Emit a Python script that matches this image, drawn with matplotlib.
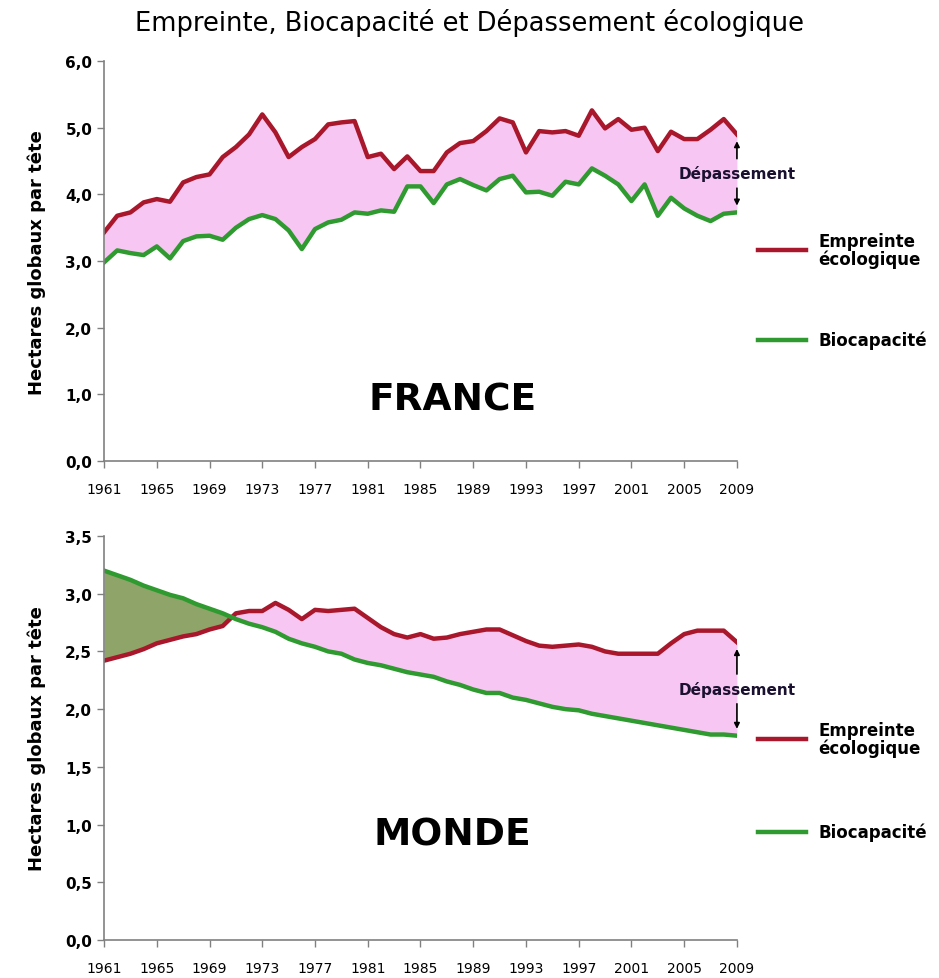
import numpy as np
import matplotlib
matplotlib.use("Agg")
import matplotlib.pyplot as plt

years = list(range(1961, 2010))

# France - hectares globaux par tete
france_empreinte = [3.43, 3.68, 3.73, 3.88, 3.93, 3.89, 4.18, 4.26, 4.30, 4.56,
                    4.71, 4.90, 5.20, 4.93, 4.56, 4.71, 4.83, 5.05, 5.08, 5.10,
                    4.56, 4.61, 4.38, 4.57, 4.35, 4.35, 4.63, 4.77, 4.80, 4.95,
                    5.14, 5.08, 4.63, 4.95, 4.93, 4.95, 4.88, 5.26, 4.99, 5.13,
                    4.97, 5.00, 4.65, 4.94, 4.83, 4.83, 4.97, 5.13, 4.90]
france_biocap = [2.98, 3.16, 3.12, 3.09, 3.22, 3.04, 3.30, 3.37, 3.38, 3.32,
                 3.50, 3.63, 3.69, 3.63, 3.46, 3.18, 3.48, 3.58, 3.62, 3.73,
                 3.71, 3.76, 3.74, 4.12, 4.12, 3.87, 4.15, 4.23, 4.14, 4.06,
                 4.23, 4.28, 4.03, 4.04, 3.98, 4.19, 4.15, 4.39, 4.28, 4.15,
                 3.90, 4.15, 3.68, 3.95, 3.79, 3.68, 3.60, 3.71, 3.73]

# Monde
monde_empreinte = [2.42, 2.45, 2.48, 2.52, 2.57, 2.60, 2.63, 2.65, 2.69, 2.72,
                   2.83, 2.85, 2.85, 2.92, 2.86, 2.78, 2.86, 2.85, 2.86, 2.87,
                   2.79, 2.71, 2.65, 2.62, 2.65, 2.61, 2.62, 2.65, 2.67, 2.69,
                   2.69, 2.64, 2.59, 2.55, 2.54, 2.55, 2.56, 2.54, 2.50, 2.48,
                   2.48, 2.48, 2.48, 2.57, 2.65, 2.68, 2.68, 2.68, 2.58]
monde_biocap = [3.20, 3.16, 3.12, 3.07, 3.03, 2.99, 2.96, 2.91, 2.87, 2.83,
                2.78, 2.74, 2.71, 2.67, 2.61, 2.57, 2.54, 2.50, 2.48, 2.43,
                2.40, 2.38, 2.35, 2.32, 2.30, 2.28, 2.24, 2.21, 2.17, 2.14,
                2.14, 2.10, 2.08, 2.05, 2.02, 2.00, 1.99, 1.96, 1.94, 1.92,
                1.90, 1.88, 1.86, 1.84, 1.82, 1.80, 1.78, 1.78, 1.77]

xtick_years = list(range(1961, 2010, 4))

RED = "#a8172b"
GREEN = "#2f9a2f"
PINK = "#f8c6f3"
OLIVE = "#8fa468"


def fmt_fr(v):
    return f"{v:.1f}".replace(".", ",")


def draw_panel(ax, empreinte, biocap, ymax, ystep, country, country_y):
    x = np.array(years)
    e = np.array(empreinte)
    b = np.array(biocap)
    ax.fill_between(x, b, e, where=e >= b, interpolate=True, color=PINK, lw=0)
    ax.fill_between(x, b, e, where=e < b, interpolate=True, color=OLIVE, lw=0)
    ax.plot(x, e, color=RED, lw=3.2, solid_joinstyle="round")
    ax.plot(x, b, color=GREEN, lw=3.2, solid_joinstyle="round")

    ax.set_xlim(1961, 2009)
    ax.set_ylim(0, ymax)
    ax.set_xticks(xtick_years)
    ax.set_xticklabels([str(y) for y in xtick_years], fontsize=10)
    yt = np.arange(0, ymax + 0.001, ystep)
    ax.set_yticks(yt)
    ax.set_yticklabels([fmt_fr(v) for v in yt], fontsize=11, fontweight="bold")
    for s in ["top", "right"]:
        ax.spines[s].set_visible(False)
    for s in ["left", "bottom"]:
        ax.spines[s].set_color("#808080")
        ax.spines[s].set_linewidth(1.2)
    ax.tick_params(axis="both", color="#808080", length=5, width=1)
    ax.tick_params(axis="x", pad=10)
    ax.set_ylabel("Hectares globaux par tête", fontsize=13, fontweight="bold",
                  labelpad=14)

    ax.text(0.55, country_y, country, transform=ax.transAxes, fontsize=27,
            fontweight="bold", ha="center", va="center")

    # fleches du depassement
    top = e[-1]
    bot = b[-1]
    mid = (top + bot) / 2
    ax.text(2009, mid, "Dépassement", fontsize=11, fontweight="bold",
            color="#1a1030", ha="center", va="center", clip_on=False)
    unit = ymax / 400.0  # valeur par pixel environ
    ax.annotate("", xy=(2009, top - 4 * unit), xytext=(2009, mid + 12 * unit),
                arrowprops=dict(arrowstyle="-|>", color="black", lw=1.2,
                                mutation_scale=8), annotation_clip=False)
    ax.annotate("", xy=(2009, bot + 4 * unit), xytext=(2009, mid - 12 * unit),
                arrowprops=dict(arrowstyle="-|>", color="black", lw=1.2,
                                mutation_scale=8), annotation_clip=False)


fig = plt.figure(figsize=(9.39, 9.79), dpi=100)
fig.patch.set_facecolor("white")

ax1 = fig.add_axes([0.1108, 0.528, 0.674, 0.4086])
ax2 = fig.add_axes([0.1108, 0.0388, 0.674, 0.4127])

draw_panel(ax1, france_empreinte, france_biocap, 6.0, 1.0, "FRANCE", 0.155)
draw_panel(ax2, monde_empreinte, monde_biocap, 3.5, 0.5, "MONDE", 0.262)

fig.text(0.5, 0.977, "Empreinte, Biocapacité et Dépassement écologique",
         fontsize=18.5, ha="center", va="center")

# legendes a droite
def legend_item(y_px, color, label):
    yf = 1 - y_px / 979
    fig.add_artist(plt.Line2D([758 / 939, 806 / 939], [yf, yf], color=color,
                              lw=3.2, transform=fig.transFigure))
    fig.text(818 / 939, yf, label, fontsize=12, fontweight="bold",
             ha="left", va="center", linespacing=1.0)

legend_item(251, RED, "Empreinte\nécologique")
legend_item(341, GREEN, "Biocapacité")
legend_item(740, RED, "Empreinte\nécologique")
legend_item(833, GREEN, "Biocapacité")

fig.savefig("out.png", dpi=100)
